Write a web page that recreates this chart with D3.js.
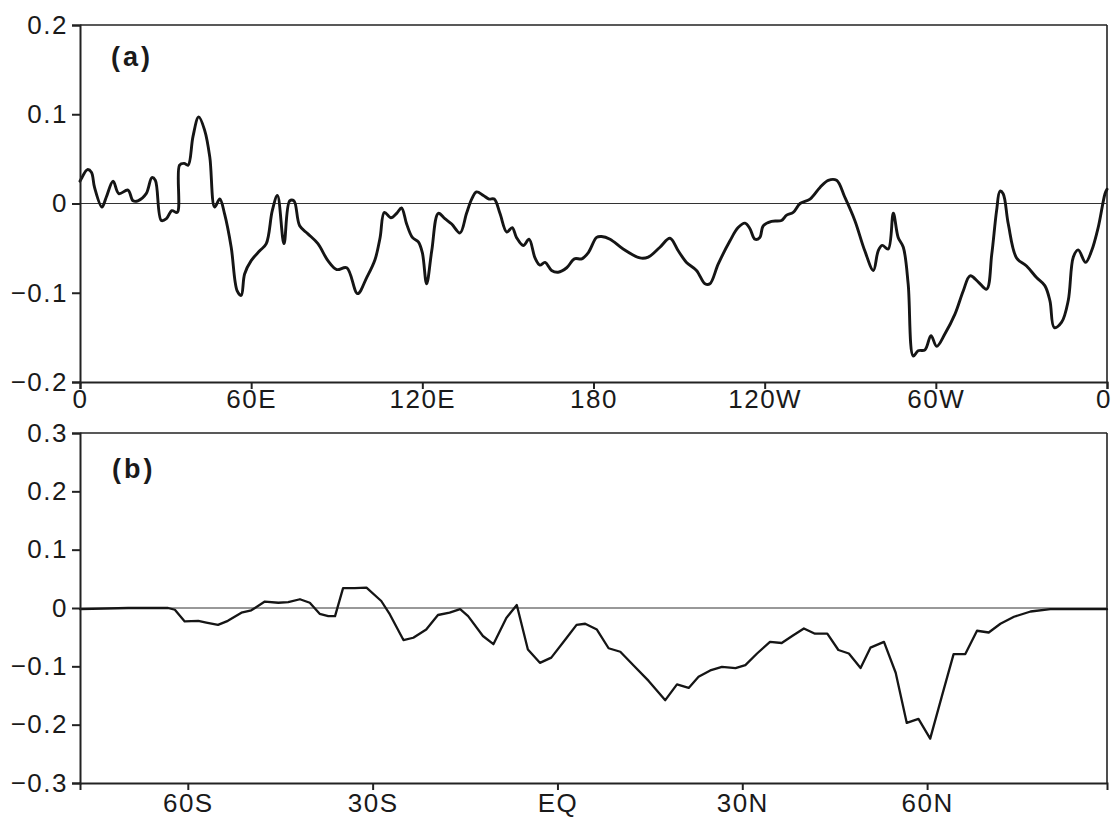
<!DOCTYPE html>
<html>
<head>
<meta charset="utf-8">
<script src="https://cdn.jsdelivr.net/npm/d3@7"></script>
<style>
  html, body { margin: 0; padding: 0; background: #ffffff; }
  svg { display: block; }
  text { font-family: "Liberation Sans", Arial, sans-serif; fill: #1a1a1a; }
</style>
</head>
<body>
<svg id="chart" width="1113" height="817"></svg>
<script>
// ---- Panel (a): longitude profile ----
const lonA = [0,0.5,2.6,4,5.1,7.7,9.2,11.6,13.6,16.8,18.6,20.3,23.2,25.2,26.4,28.5,30.3,32.2,34.1,34.9,36.5,37.9,39.6,41.6,43.7,45.5,47.2,49,50.7,53,55.1,56.5,57.7,60,63,65.3,67.4,69.2,71.5,73.5,75,77,79.9,83.4,86.9,90,93.5,97.3,100.5,103.4,105.2,106.7,109,111,112.7,114.5,116.5,118.6,120,121.5,123.3,125.6,127.9,130.3,133.2,135.5,137.3,139,141.4,143.4,145.2,147.2,149.6,151.5,153,155.4,157.4,159.5,161.2,163,165.3,167.6,170.6,173.3,175.9,178.2,181.1,182.8,185.8,190.4,196.3,199.2,203.3,206.8,209.7,212.6,216.1,219.1,220.8,223.7,227.8,230.7,233.1,234.8,236.6,238.3,239.5,242.4,245.9,247.7,250,252.4,255.9,259.4,262.3,265.2,268.1,271.6,275.1,278.1,279.8,281.2,283.3,285.1,286.8,288.6,290.3,292.1,293.8,296.2,298.3,300.3,303.2,306.7,309.6,312,314.9,317.8,319.6,321.3,322.5,323.6,325.4,328.3,331.8,335.3,338.2,340,341.5,344.1,346.4,348.2,349.9,352.5,354.6,356.9,359.3,360];
const valA = [0.025,0.028,0.038,0.035,0.018,-0.004,0.007,0.025,0.011,0.015,0.003,0.003,0.011,0.029,0.026,-0.019,-0.017,-0.008,-0.010,0.043,0.045,0.043,0.075,0.097,0.082,0.052,-0.004,0.005,-0.012,-0.049,-0.098,-0.103,-0.079,-0.064,-0.053,-0.045,-0.008,0.009,-0.045,0.003,0.003,-0.025,-0.034,-0.045,-0.064,-0.074,-0.072,-0.101,-0.083,-0.063,-0.038,-0.010,-0.016,-0.011,-0.005,-0.023,-0.038,-0.043,-0.055,-0.090,-0.053,-0.011,-0.017,-0.023,-0.033,-0.011,0.005,0.013,0.009,0.005,0.005,-0.011,-0.032,-0.027,-0.038,-0.047,-0.040,-0.061,-0.069,-0.066,-0.075,-0.077,-0.072,-0.062,-0.062,-0.055,-0.038,-0.037,-0.040,-0.051,-0.061,-0.060,-0.049,-0.039,-0.053,-0.066,-0.075,-0.090,-0.090,-0.068,-0.042,-0.027,-0.022,-0.028,-0.040,-0.038,-0.025,-0.020,-0.019,-0.013,-0.010,0.000,0.005,0.018,0.026,0.026,0.007,-0.019,-0.053,-0.075,-0.053,-0.047,-0.051,-0.011,-0.038,-0.049,-0.090,-0.171,-0.165,-0.164,-0.148,-0.160,-0.146,-0.124,-0.098,-0.081,-0.088,-0.096,-0.057,-0.008,0.014,0.011,-0.023,-0.061,-0.070,-0.083,-0.092,-0.109,-0.139,-0.133,-0.109,-0.060,-0.052,-0.066,-0.053,-0.027,0.011,0.016];
const tickLonA = [0, 60, 120, 180, 240, 300, 360];
const tickLabA = ["0", "60E", "120E", "180", "120W", "60W", "0"];
const tickYA = [-0.2, -0.1, 0, 0.1, 0.2];

// ---- Panel (b): latitude profile ----
const latB = [-77.5,-69.7,-63.2,-62.1,-60.5,-58.3,-57,-55.1,-53.5,-51.3,-49.7,-47.5,-45.3,-43.7,-41.8,-40.2,-38.6,-37.2,-36.1,-34.8,-32.9,-31,-28.6,-27.2,-25,-23.4,-21.3,-19.4,-17.5,-15.8,-14.5,-12.1,-10.4,-8.3,-6.6,-4.8,-2.85,-1,1.5,3.1,4.5,6.4,8.3,10.2,12.4,14.8,17.5,19.4,21.3,22.9,24.8,26.7,28.9,30.5,32.4,34.5,36.4,38.1,40,41.8,43.8,45.6,47.3,49.2,50.8,53,54.9,56.7,58.6,60.5,62.4,64.3,66.2,68.1,70,71.9,74.1,76.8,80,83.8,89.2];
const valB = [-0.002,0.000,0.000,-0.003,-0.023,-0.022,-0.025,-0.029,-0.022,-0.008,-0.004,0.011,0.009,0.010,0.015,0.009,-0.010,-0.014,-0.014,0.034,0.034,0.035,0.012,-0.011,-0.055,-0.051,-0.037,-0.012,-0.008,-0.002,-0.014,-0.048,-0.062,-0.017,0.005,-0.071,-0.094,-0.085,-0.051,-0.029,-0.027,-0.037,-0.069,-0.075,-0.099,-0.125,-0.158,-0.131,-0.137,-0.118,-0.107,-0.101,-0.103,-0.098,-0.078,-0.058,-0.060,-0.048,-0.035,-0.044,-0.044,-0.072,-0.078,-0.103,-0.068,-0.058,-0.111,-0.197,-0.190,-0.224,-0.151,-0.079,-0.079,-0.039,-0.042,-0.027,-0.015,-0.006,-0.002,-0.002,-0.002];
const tickLatB = [-60, -30, 0, 30, 60];
const tickLabB = ["60S", "30S", "EQ", "30N", "60N"];
const tickYB = [-0.3, -0.2, -0.1, 0, 0.1, 0.2, 0.3];

const svg = d3.select("#chart");

function panel(cfg) {
  const { left, right, top, bottom, xDomain, yDomain, xs, ys, xTicks, xLabels, yTicks,
          label, labelX, labelY, lineWidth, xPad, curve } = cfg;
  const x = d3.scaleLinear().domain(xDomain).range([left, right]);
  const y = d3.scaleLinear().domain(yDomain).range([bottom, top]);
  const g = svg.append("g");

  // frame top & right
  g.append("line").attr("x1", left).attr("x2", right).attr("y1", top).attr("y2", top)
    .attr("stroke", "#222").attr("stroke-width", 1.6);
  g.append("line").attr("x1", right).attr("x2", right).attr("y1", top).attr("y2", bottom)
    .attr("stroke", "#222").attr("stroke-width", 1.6);

  // zero line
  g.append("line").attr("x1", x(xDomain[0])).attr("x2", x(xDomain[1]))
    .attr("y1", y(0)).attr("y2", y(0))
    .attr("stroke", "#333").attr("stroke-width", 1);

  // data line
  const data = xs.map((d, i) => [d, ys[i]]);
  g.append("path").datum(data)
    .attr("fill", "none").attr("stroke", "#151515")
    .attr("stroke-width", lineWidth).attr("stroke-linejoin", "round").attr("stroke-linecap", "round")
    .attr("d", d3.line().curve(curve).x(d => x(d[0])).y(d => y(d[1])));

  // y axis
  const ya = g.append("g").attr("transform", `translate(${left},0)`)
    .call(d3.axisLeft(y).tickValues(yTicks).tickSize(8).tickPadding(4)
      .tickFormat(d => d === 0 ? "0" : d3.format(".1f")(d)));
  ya.select(".domain").attr("stroke", "#222").attr("stroke-width", 2);
  ya.selectAll(".tick line").attr("stroke", "#222").attr("stroke-width", 2);
  ya.selectAll("text").style("font-size", "26px").style("letter-spacing", "1.5px")
    .attr("fill", "#1a1a1a");

  // x axis
  const xa = g.append("g").attr("transform", `translate(0,${bottom})`)
    .call(d3.axisBottom(x).tickValues(xTicks).tickSize(7).tickPadding(xPad)
      .tickFormat((d, i) => xLabels[i]));
  xa.select(".domain").attr("stroke", "#222").attr("stroke-width", 2);
  xa.selectAll(".tick line").attr("stroke", "#222").attr("stroke-width", 2);
  xa.selectAll("text").style("font-size", "26px").style("letter-spacing", "1.5px")
    .attr("fill", "#1a1a1a");
  // keep a label at the right edge inside the picture
  xa.selectAll("text").each(function() {
    const bb = this.getBBox();
    const tx = +d3.select(this.parentNode).attr("transform").match(/translate\(([-\d.]+)/)[1];
    const over = tx + bb.x + bb.width - 1112;
    if (over > 0) d3.select(this).attr("x", -over);
  });

  // panel label
  g.append("text").attr("x", labelX).attr("y", labelY)
    .style("font-size", "27px").style("font-weight", "bold").style("letter-spacing", "3px")
    .text(label);
}

panel({
  left: 80, right: 1107, top: 25, bottom: 382,
  xDomain: [0, 360], yDomain: [-0.2, 0.2],
  xs: lonA, ys: valA, xTicks: tickLonA, xLabels: tickLabA, yTicks: tickYA,
  label: "(a)", labelX: 111, labelY: 66, lineWidth: 2.9, xPad: 1,
  curve: d3.curveCatmullRom.alpha(0.5)
});

panel({
  left: 80, right: 1107, top: 433, bottom: 783,
  xDomain: [-77.5, 89.2], yDomain: [-0.3, 0.3],
  xs: latB, ys: valB, xTicks: tickLatB, xLabels: tickLabB, yTicks: tickYB,
  label: "(b)", labelX: 112, labelY: 478, lineWidth: 2.3, xPad: 3.5,
  curve: d3.curveLinear
});
</script>
</body>
</html>
